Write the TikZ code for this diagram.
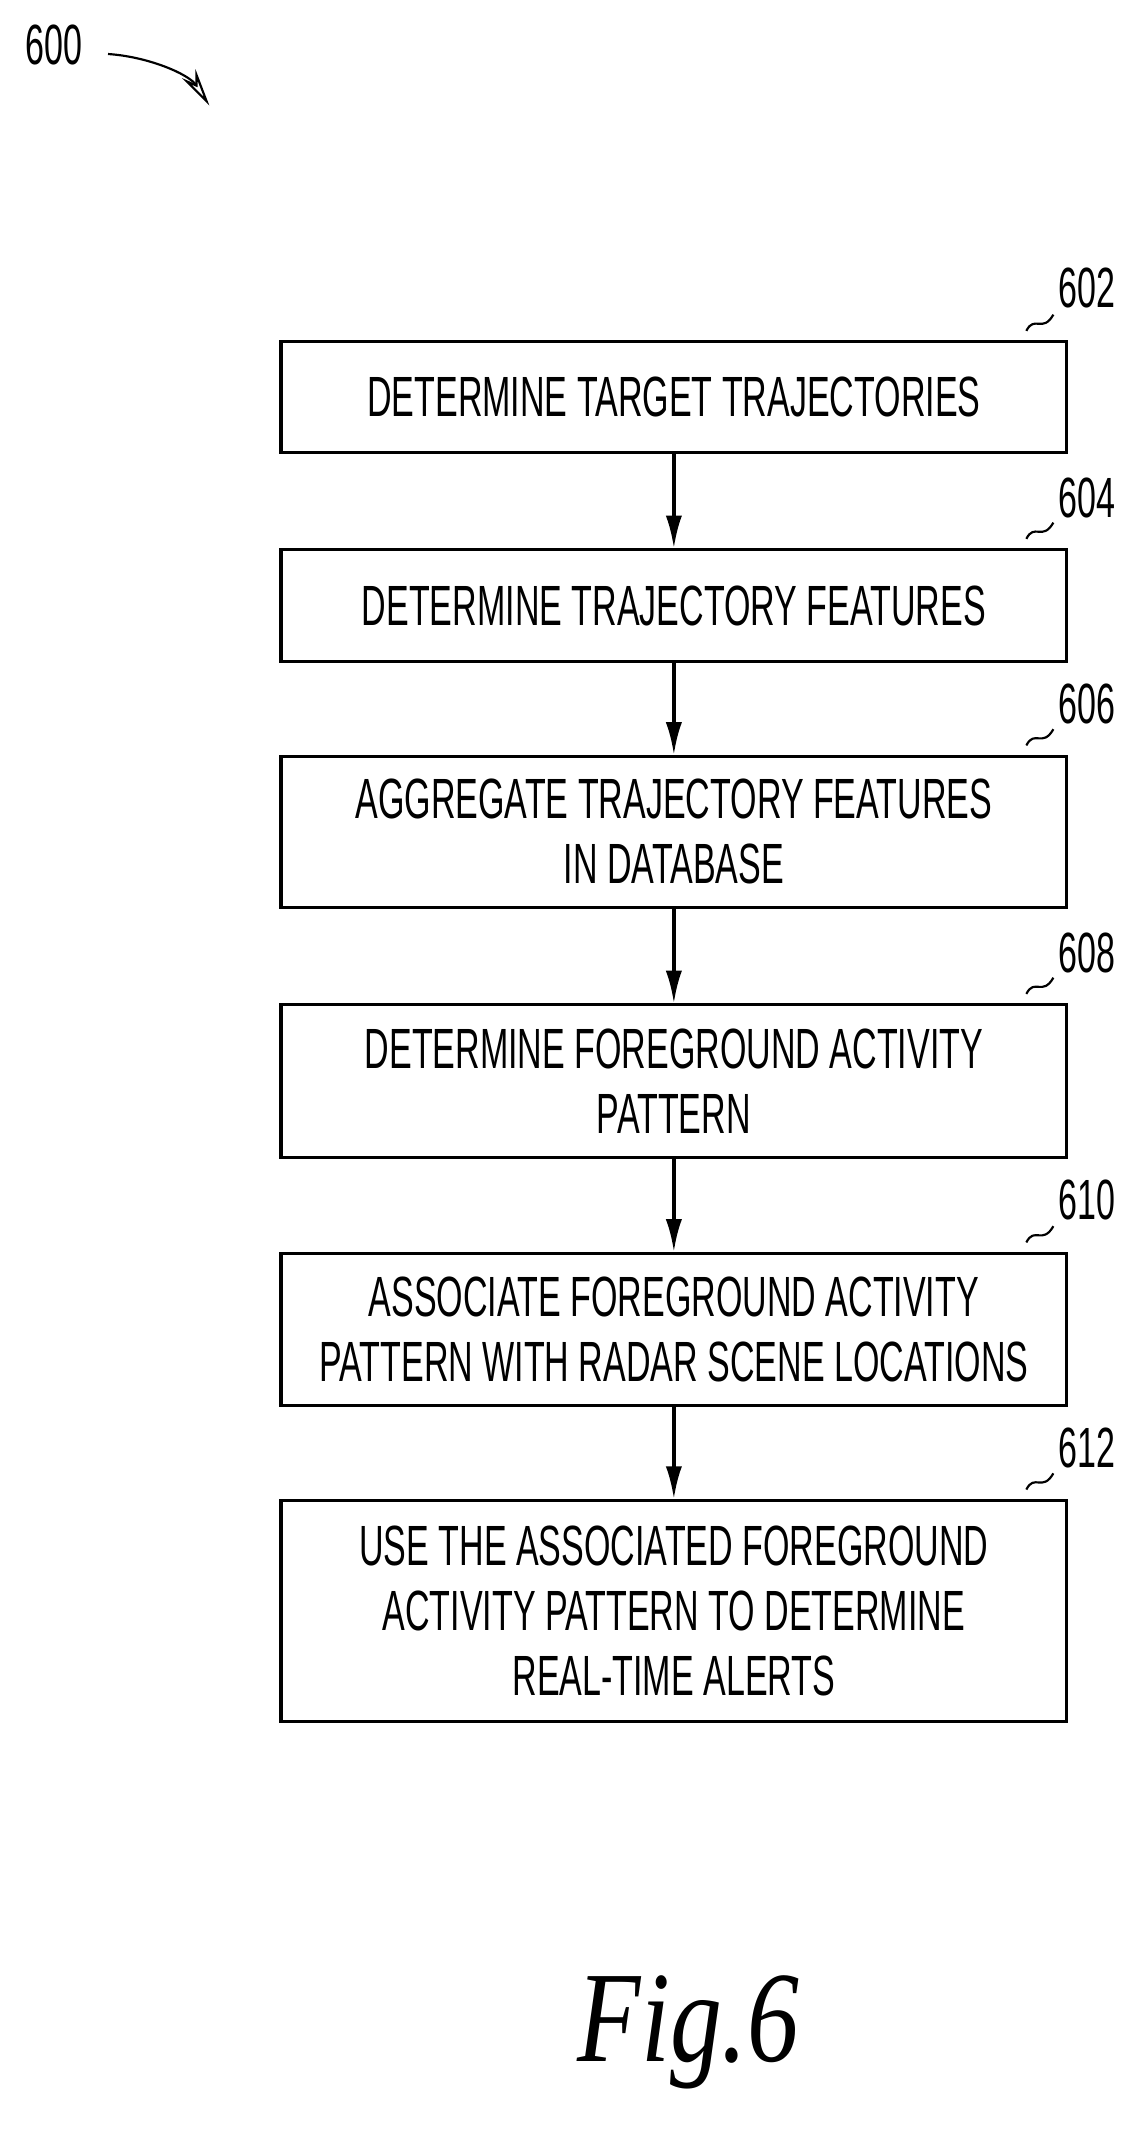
\documentclass[tikz,border=0pt]{standalone}
\usepackage{fontspec}
\setmainfont{Liberation Sans}[FakeStretch=0.6]
\newfontfamily\figfont{Liberation Serif}[FakeStretch=0.8]
\usetikzlibrary{arrows.meta}
\tikzset{
  stepbox/.style={draw, line width=1.2pt, minimum width=291pt, align=center,
    font=\fontsize{21}{24}\selectfont, inner sep=0pt},
  tag/.style={font=\fontsize{21}{24}\selectfont, anchor=base},
  flow/.style={-{Latex[length=12pt,width=6pt]}, line width=1.2pt},
}
\newcommand\squiggle[2]{
  \draw[line width=0.8pt] (#1,#2) .. controls (#1+6,#2-12) and (#1+12,#2+2) .. (#1+20,#2-12);
}
\begin{document}
\begin{tikzpicture}[x=0.5pt,y=-0.5pt]
  \useasboundingbox (0,0) rectangle (850,1578);

  \node[tag] (t600) at (40,48) {600};
  \coordinate (a600) at (155,78);
  \draw[line width=0.8pt, -{Stealth[open,length=14pt,width=6pt]}] (80,40) .. controls (110,42) and (140,55) .. (a600);

  \node[stepbox, minimum height=41pt] (s602) at (499,294) {DETERMINE TARGET TRAJECTORIES};
  \node[stepbox, minimum height=41.5pt] (s604) at (499,448.5) {DETERMINE TRAJECTORY FEATURES};
  \node[stepbox, minimum height=56pt] (s606) at (499,616) {AGGREGATE TRAJECTORY FEATURES\\IN DATABASE};
  \node[stepbox, minimum height=56.5pt] (s608) at (499,800.5) {DETERMINE FOREGROUND ACTIVITY\\PATTERN};
  \node[stepbox, minimum height=56.5pt] (s610) at (499,984.5) {ASSOCIATE FOREGROUND ACTIVITY\\PATTERN WITH RADAR SCENE LOCATIONS};
  \node[stepbox, minimum height=82pt] (s612) at (499,1193) {USE THE ASSOCIATED FOREGROUND\\ACTIVITY PATTERN TO DETERMINE\\REAL-TIME ALERTS};

  \node[tag] (t602) at (805,228) {602};
  \node[tag] (t604) at (805,383) {604};
  \node[tag] (t606) at (805,536) {606};
  \node[tag] (t608) at (805,720) {608};
  \node[tag] (t610) at (805,903) {610};
  \node[tag] (t612) at (805,1087) {612};
  \squiggle{760}{245}
  \squiggle{760}{399}
  \squiggle{760}{552}
  \squiggle{760}{736}
  \squiggle{760}{920}
  \squiggle{760}{1103}

  \draw[flow] (s602) -- (s604);
  \draw[flow] (s604) -- (s606);
  \draw[flow] (s606) -- (s608);
  \draw[flow] (s608) -- (s610);
  \draw[flow] (s610) -- (s612);

  \node[font=\figfont\itshape\fontsize{48}{50}\selectfont] (fig) at (510,1505) {Fig.6};
\end{tikzpicture}
\end{document}
